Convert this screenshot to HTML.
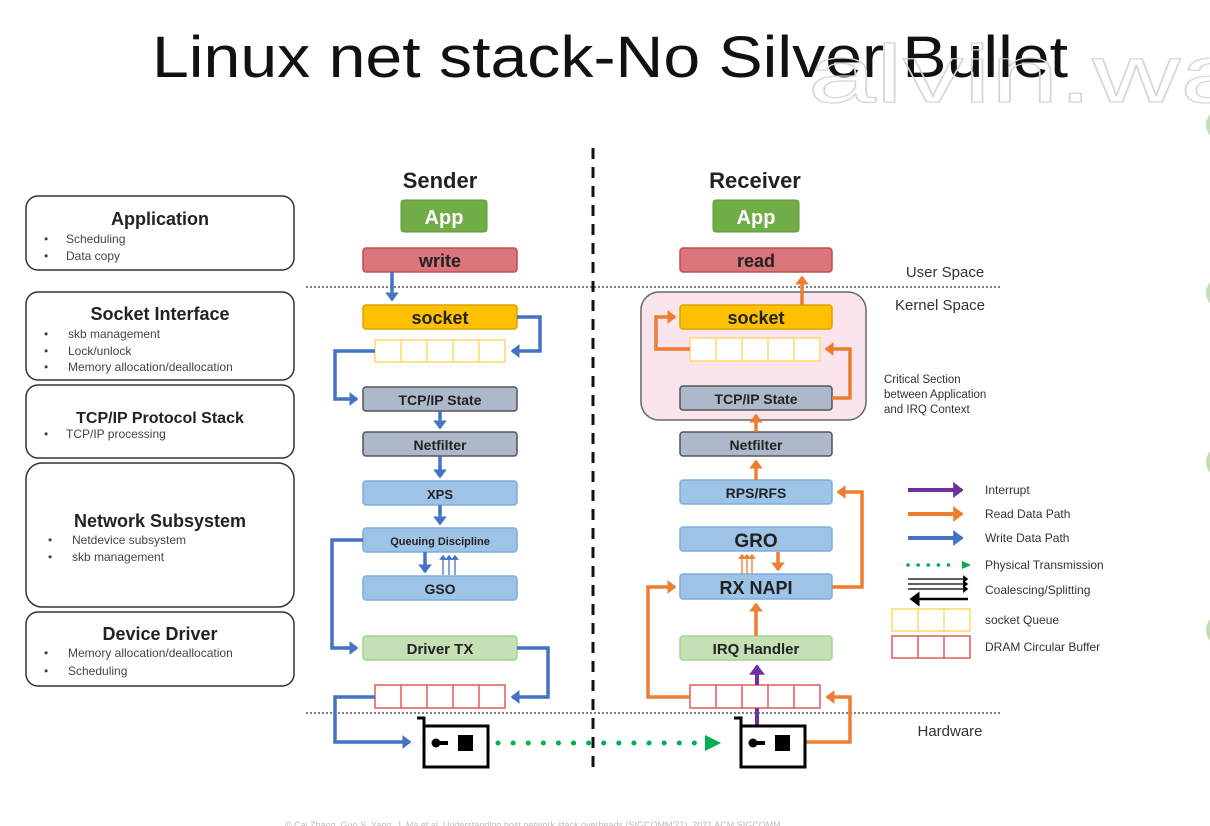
<!DOCTYPE html>
<html><head><meta charset="utf-8"><style>
html,body{margin:0;padding:0;background:#fff;}
svg{display:block;font-family:"Liberation Sans",sans-serif;}
.b{font-weight:bold;fill:#222;text-anchor:middle;}
.s{font-size:12px;fill:#444;}
</style></head><body>
<svg width="1210" height="826" viewBox="0 0 1210 826" xmlns="http://www.w3.org/2000/svg">
<defs>
<marker id="ab" markerWidth="4" markerHeight="4" refX="2.2" refY="2" orient="auto" markerUnits="strokeWidth"><path d="M0,0 L2.6,2 L0,4 z" fill="#4472c4"/></marker>
<marker id="ao" markerWidth="4" markerHeight="4" refX="2.2" refY="2" orient="auto" markerUnits="strokeWidth"><path d="M0,0 L2.6,2 L0,4 z" fill="#ed7d31"/></marker>
<marker id="ap" markerWidth="4" markerHeight="4" refX="2.2" refY="2" orient="auto" markerUnits="strokeWidth"><path d="M0,0 L2.6,2 L0,4 z" fill="#7030a0"/></marker>
<marker id="ak" markerWidth="6" markerHeight="6" refX="3" refY="3" orient="auto" markerUnits="strokeWidth"><path d="M0,0 L4,3 L0,6 z" fill="#000"/></marker>
<marker id="at" markerWidth="6" markerHeight="6" refX="3" refY="3" orient="auto" markerUnits="strokeWidth"><path d="M0,0 L4,3 L0,6 z" fill="#4472c4"/></marker>
<marker id="atO" markerWidth="6" markerHeight="6" refX="3" refY="3" orient="auto" markerUnits="strokeWidth"><path d="M0,0 L4,3 L0,6 z" fill="#ed7d31"/></marker>
</defs>

<!-- title & watermark -->
<text x="152" y="77" font-size="58" textLength="916" lengthAdjust="spacingAndGlyphs" fill="#111">Linux net stack-No Silver Bullet</text>
<text x="808" y="102" font-size="82" textLength="440" lengthAdjust="spacingAndGlyphs" fill="none" stroke="#d6d6d6" stroke-width="1.2">alvin.wa</text>
<circle cx="1222" cy="125" r="16" fill="#a9d18e" opacity="0.7"/>
<circle cx="1222" cy="293" r="16" fill="#a9d18e" opacity="0.7"/>
<circle cx="1222" cy="462" r="16" fill="#a9d18e" opacity="0.7"/>
<circle cx="1222" cy="630" r="16" fill="#a9d18e" opacity="0.7"/>

<!-- left layer boxes -->
<g fill="#fff" stroke="#333" stroke-width="1.5">
<rect x="26" y="196" width="268" height="74" rx="12"/>
<rect x="26" y="292" width="268" height="88" rx="12"/>
<rect x="26" y="385" width="268" height="73" rx="12"/>
<rect x="26" y="463" width="268" height="144" rx="16"/>
<rect x="26" y="612" width="268" height="74" rx="12"/>
</g>
<g class="b" font-size="18">
<text x="160" y="225">Application</text>
<text x="160" y="320">Socket Interface</text>
<text x="160" y="423" font-size="16">TCP/IP Protocol Stack</text>
<text x="160" y="527">Network Subsystem</text>
<text x="160" y="640">Device Driver</text>
</g>
<g class="s" font-size="11.5">
<text x="44" y="243">•</text><text x="66" y="243">Scheduling</text>
<text x="44" y="260">•</text><text x="66" y="260">Data copy</text>
<text x="44" y="338">•</text><text x="68" y="338">skb management</text>
<text x="44" y="355">•</text><text x="68" y="355">Lock/unlock</text>
<text x="44" y="371">•</text><text x="68" y="371">Memory allocation/deallocation</text>
<text x="44" y="438">•</text><text x="66" y="438">TCP/IP processing</text>
<text x="48" y="544">•</text><text x="72" y="544">Netdevice subsystem</text>
<text x="48" y="561">•</text><text x="72" y="561">skb management</text>
<text x="44" y="657">•</text><text x="68" y="657">Memory allocation/deallocation</text>
<text x="44" y="675">•</text><text x="68" y="675">Scheduling</text>
</g>

<!-- separators -->
<line x1="306" y1="287" x2="1000" y2="287" stroke="#555" stroke-width="1.5" stroke-dasharray="2,2"/>
<line x1="306" y1="713" x2="1000" y2="713" stroke="#555" stroke-width="1.5" stroke-dasharray="2,2"/>
<line x1="593" y1="148" x2="593" y2="770" stroke="#111" stroke-width="3" stroke-dasharray="11,8"/>
<text x="945" y="277" font-size="15" fill="#333" text-anchor="middle">User Space</text>
<text x="940" y="310" font-size="15" fill="#333" text-anchor="middle">Kernel Space</text>
<text x="950" y="736" font-size="15" fill="#333" text-anchor="middle">Hardware</text>
<text font-size="11.5" fill="#333"><tspan x="884" y="383">Critical Section</tspan><tspan x="884" y="398">between Application</tspan><tspan x="884" y="413">and IRQ Context</tspan></text>

<text x="440" y="188" class="b" font-size="22">Sender</text>
<text x="755" y="188" class="b" font-size="22">Receiver</text>

<!-- critical section -->
<rect x="641" y="292" width="225" height="128" rx="18" fill="#fbe5ec" stroke="#666" stroke-width="1.5"/>

<!-- App boxes -->
<rect x="401" y="200" width="86" height="32" rx="3" fill="#70ad47" stroke="#5a9a3a"/>
<text x="444" y="224" font-size="20" fill="#fff" text-anchor="middle" font-weight="bold">App</text>
<rect x="713" y="200" width="86" height="32" rx="3" fill="#70ad47" stroke="#5a9a3a"/>
<text x="756" y="224" font-size="20" fill="#fff" text-anchor="middle" font-weight="bold">App</text>

<!-- sender boxes -->
<g stroke-width="1.5">
<rect x="363" y="248" width="154" height="24" rx="3" fill="#d9757b" stroke="#c0504d"/>
<rect x="363" y="305" width="154" height="24" rx="3" fill="#ffc000" stroke="#d9a300"/>
<rect x="363" y="387" width="154" height="24" rx="3" fill="#adb9ca" stroke="#555"/>
<rect x="363" y="432" width="154" height="24" rx="3" fill="#adb9ca" stroke="#555"/>
<rect x="363" y="481" width="154" height="24" rx="3" fill="#9dc3e6" stroke="#7eaedc"/>
<rect x="363" y="528" width="154" height="24" rx="3" fill="#9dc3e6" stroke="#7eaedc"/>
<rect x="363" y="576" width="154" height="24" rx="3" fill="#9dc3e6" stroke="#7eaedc"/>
<rect x="363" y="636" width="154" height="24" rx="3" fill="#c5e0b4" stroke="#a9d18e"/>
<!-- receiver boxes -->
<rect x="680" y="248" width="152" height="24" rx="3" fill="#d9757b" stroke="#c0504d"/>
<rect x="680" y="305" width="152" height="24" rx="3" fill="#ffc000" stroke="#d9a300"/>
<rect x="680" y="386" width="152" height="24" rx="3" fill="#adb9ca" stroke="#555"/>
<rect x="680" y="432" width="152" height="24" rx="3" fill="#adb9ca" stroke="#555"/>
<rect x="680" y="480" width="152" height="24" rx="3" fill="#9dc3e6" stroke="#7eaedc"/>
<rect x="680" y="527" width="152" height="24" rx="3" fill="#9dc3e6" stroke="#7eaedc"/>
<rect x="680" y="574" width="152" height="25" rx="3" fill="#9dc3e6" stroke="#7eaedc"/>
<rect x="680" y="636" width="152" height="24" rx="3" fill="#c5e0b4" stroke="#a9d18e"/>
</g>
<g class="b">
<text x="440" y="267" font-size="18">write</text>
<text x="440" y="324" font-size="18">socket</text>
<text x="440" y="405" font-size="14">TCP/IP State</text>
<text x="440" y="450" font-size="14">Netfilter</text>
<text x="440" y="499" font-size="13">XPS</text>
<text x="440" y="545" font-size="11">Queuing Discipline</text>
<text x="440" y="594" font-size="14">GSO</text>
<text x="440" y="654" font-size="15">Driver TX</text>
<text x="756" y="267" font-size="18">read</text>
<text x="756" y="324" font-size="18">socket</text>
<text x="756" y="404" font-size="14">TCP/IP State</text>
<text x="756" y="450" font-size="14">Netfilter</text>
<text x="756" y="498" font-size="14">RPS/RFS</text>
<text x="756" y="547" font-size="19">GRO</text>
<text x="756" y="594" font-size="18">RX NAPI</text>
<text x="756" y="654" font-size="15">IRQ Handler</text>
</g>

<!-- queues -->
<g fill="#fff" stroke="#ffd966" stroke-width="1.5">
<rect x="375" y="340" width="130" height="22"/><line x1="401" y1="340" x2="401" y2="362"/><line x1="427" y1="340" x2="427" y2="362"/><line x1="453" y1="340" x2="453" y2="362"/><line x1="479" y1="340" x2="479" y2="362"/>
<rect x="690" y="338" width="130" height="23"/><line x1="716" y1="338" x2="716" y2="361"/><line x1="742" y1="338" x2="742" y2="361"/><line x1="768" y1="338" x2="768" y2="361"/><line x1="794" y1="338" x2="794" y2="361"/>
<rect x="892" y="609" width="78" height="22"/><line x1="918" y1="609" x2="918" y2="631"/><line x1="944" y1="609" x2="944" y2="631"/>
</g>
<g fill="#fff" stroke="#e05a5a" stroke-width="1.5">
<rect x="375" y="685" width="130" height="23"/><line x1="401" y1="685" x2="401" y2="708"/><line x1="427" y1="685" x2="427" y2="708"/><line x1="453" y1="685" x2="453" y2="708"/><line x1="479" y1="685" x2="479" y2="708"/>
<rect x="690" y="685" width="130" height="23"/><line x1="716" y1="685" x2="716" y2="708"/><line x1="742" y1="685" x2="742" y2="708"/><line x1="768" y1="685" x2="768" y2="708"/><line x1="794" y1="685" x2="794" y2="708"/>
<rect x="892" y="636" width="78" height="22"/><line x1="918" y1="636" x2="918" y2="658"/><line x1="944" y1="636" x2="944" y2="658"/>
</g>

<!-- sender arrows -->
<g fill="none" stroke="#4472c4" stroke-width="3.5" marker-end="url(#ab)">
<path d="M392,272 V300"/>
<path d="M517,317 H540 V351 H512"/>
<path d="M375,351 H335 V399 H357"/>
<path d="M440,411 V428"/>
<path d="M440,456 V477"/>
<path d="M440,505 V524"/>
<path d="M425,552 V572"/>
<path d="M363,540 H332 V648 H357"/>
<path d="M517,648 H548 V697 H512"/>
<path d="M375,697 H335 V742 H410"/>
</g>
<g stroke="#4472c4" stroke-width="1.3" marker-end="url(#at)">
<line x1="443" y1="575" x2="443" y2="556"/><line x1="449" y1="575" x2="449" y2="556"/><line x1="455" y1="575" x2="455" y2="556"/>
</g>

<!-- receiver arrows -->
<g fill="none" stroke="#ed7d31" stroke-width="3.5" marker-end="url(#ao)">
<path d="M805,742 H850 V697 H827"/>
<path d="M690,697 H648 V587 H675"/>
<path d="M756,636 V604"/>
<path d="M832,587 H862 V492 H838"/>
<path d="M778,552 V570"/>
<path d="M756,480 V461"/>
<path d="M756,432 V415"/>
<path d="M832,398 H850 V349 H826"/>
<path d="M690,349 H656 V317 H675"/>
<path d="M802,305 V277"/>
</g>
<g stroke="#ed7d31" stroke-width="1.3" marker-end="url(#atO)">
<line x1="742" y1="574" x2="742" y2="555"/><line x1="747" y1="574" x2="747" y2="555"/><line x1="752" y1="574" x2="752" y2="555"/>
</g>
<g fill="none" stroke="#7030a0" stroke-width="4">
<path d="M757,685 V666" marker-end="url(#ap)"/>
<path d="M757,727 V708"/>
</g>

<!-- physical transmission -->
<line x1="498" y1="743" x2="706" y2="743" stroke="#00b050" stroke-width="5" stroke-linecap="round" stroke-dasharray="0.1,15"/>
<path d="M705,735 L721,743 L705,751 z" fill="#00b050"/>

<!-- NICs -->
<g fill="none" stroke="#000" stroke-width="3">
<path d="M417,718 H424 V726 H488 V767 H424 V726"/>
<path d="M734,718 H741 V726 H805 V767 H741 V726"/>
</g>
<g fill="#000">
<circle cx="436" cy="743" r="4.5"/><rect x="436" y="741" width="12" height="4"/><rect x="458" y="735" width="15" height="16"/>
<circle cx="753" cy="743" r="4.5"/><rect x="753" y="741" width="12" height="4"/><rect x="775" y="735" width="15" height="16"/>
</g>

<!-- legend -->
<g fill="none" stroke-width="4">
<path d="M908,490 H962" stroke="#7030a0" marker-end="url(#ap)"/>
<path d="M908,514 H962" stroke="#ed7d31" marker-end="url(#ao)"/>
<path d="M908,538 H962" stroke="#4472c4" marker-end="url(#ab)"/>
</g>
<line x1="908" y1="565" x2="958" y2="565" stroke="#00b050" stroke-width="3.5" stroke-linecap="round" stroke-dasharray="0.1,10"/>
<path d="M962,561 L971,565 L962,569 z" fill="#00b050"/>
<g stroke="#000" stroke-width="1.3" marker-end="url(#ak)">
<line x1="908" y1="579" x2="967" y2="579"/><line x1="908" y1="584" x2="967" y2="584"/><line x1="908" y1="589" x2="967" y2="589"/>
</g>
<line x1="968" y1="599" x2="912" y2="599" stroke="#000" stroke-width="2.5" marker-end="url(#ak)"/>
<g font-size="12" fill="#333">
<text x="985" y="494">Interrupt</text>
<text x="985" y="518">Read Data Path</text>
<text x="985" y="542">Write Data Path</text>
<text x="985" y="569">Physical Transmission</text>
<text x="985" y="594">Coalescing/Splitting</text>
<text x="985" y="624">socket Queue</text>
<text x="985" y="651">DRAM Circular Buffer</text>
</g>

<text x="285" y="828" font-size="9" fill="#bbb">© Cai Zhang, Guo S. Yang, J. Ma et al. Understanding host network stack overheads (SIGCOMM'21), 2021 ACM SIGCOMM</text>
</svg>
</body></html>
